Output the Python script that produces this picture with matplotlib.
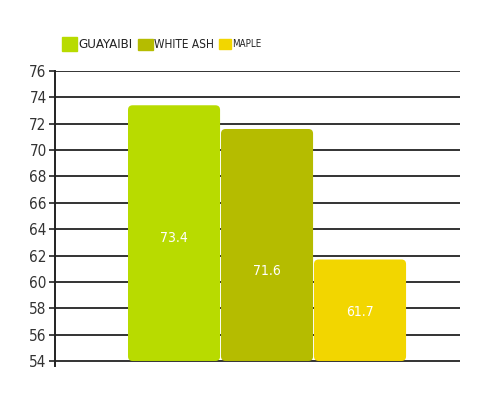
import matplotlib
matplotlib.use('Agg')
import matplotlib.pyplot as plt
import matplotlib.patches as patches

species = ['GUAYAIBI', 'WHITE ASH', 'MAPLE']
values = [73.4, 71.6, 61.7]
colors = ['#b8db00', '#b5bc00', '#f2d600']
yticks = [54, 56, 58, 60, 62, 64, 66, 68, 70, 72, 74, 76]

plt.rcParams['font.family'] = ['DejaVu Sans']
plt.rcParams['font.stretch'] = 'condensed'

fig = plt.figure(figsize=(5, 4.05), dpi=100)
ax = fig.add_axes([0.11, 0.0973, 0.81, 0.7274])

base = 54
ax.set_xlim(-1.28, 3.075)
ax.set_ylim(53.65, 76)

# gridlines
for t in yticks:
    ax.axhline(t, color='#333333', lw=1.4, zorder=1)

# rounded bars
label_frac = [0.48, 0.39, 0.48]
for i, (v, c) in enumerate(zip(values, colors)):
    w = 0.99
    box = patches.FancyBboxPatch((i - w / 2, base), w, v - base,
                                 boxstyle='round,pad=0,rounding_size=0.05',
                                 mutation_aspect=7, facecolor=c,
                                 edgecolor='none', zorder=2)
    ax.add_patch(box)
    ax.text(i, base + (v - base) * label_frac[i], f'{v}', color='white',
            ha='center', va='center', fontsize=10, zorder=3)

ax.set_yticks(yticks)
ax.set_xticks([])
for s in ['top', 'right', 'bottom']:
    ax.spines[s].set_visible(False)
ax.spines['left'].set_color('#222222')
ax.spines['left'].set_linewidth(1.4)
ax.tick_params(axis='y', length=4, width=1.2, color='#222222',
               labelsize=11, labelcolor='#333333', pad=2)

# legend across the top
leg_x = [62, 138, 219]
leg_sizes = [9.5, 8.5, 7]
sq = [(15, 14), (15, 11), (12, 9)]
for x, name, c, fs, (sw, sh) in zip(leg_x, species, colors, leg_sizes, sq):
    yc = 44
    fig.patches.append(patches.Rectangle((x / 500, 1 - (yc + sh / 2) / 405),
                                         sw / 500, sh / 405, color=c,
                                         transform=fig.transFigure))
    fig.text((x + sw + 1) / 500, 1 - yc / 405, name, fontsize=fs,
             color='#222222', ha='left', va='center')

fig.savefig('out.png', dpi=100)
